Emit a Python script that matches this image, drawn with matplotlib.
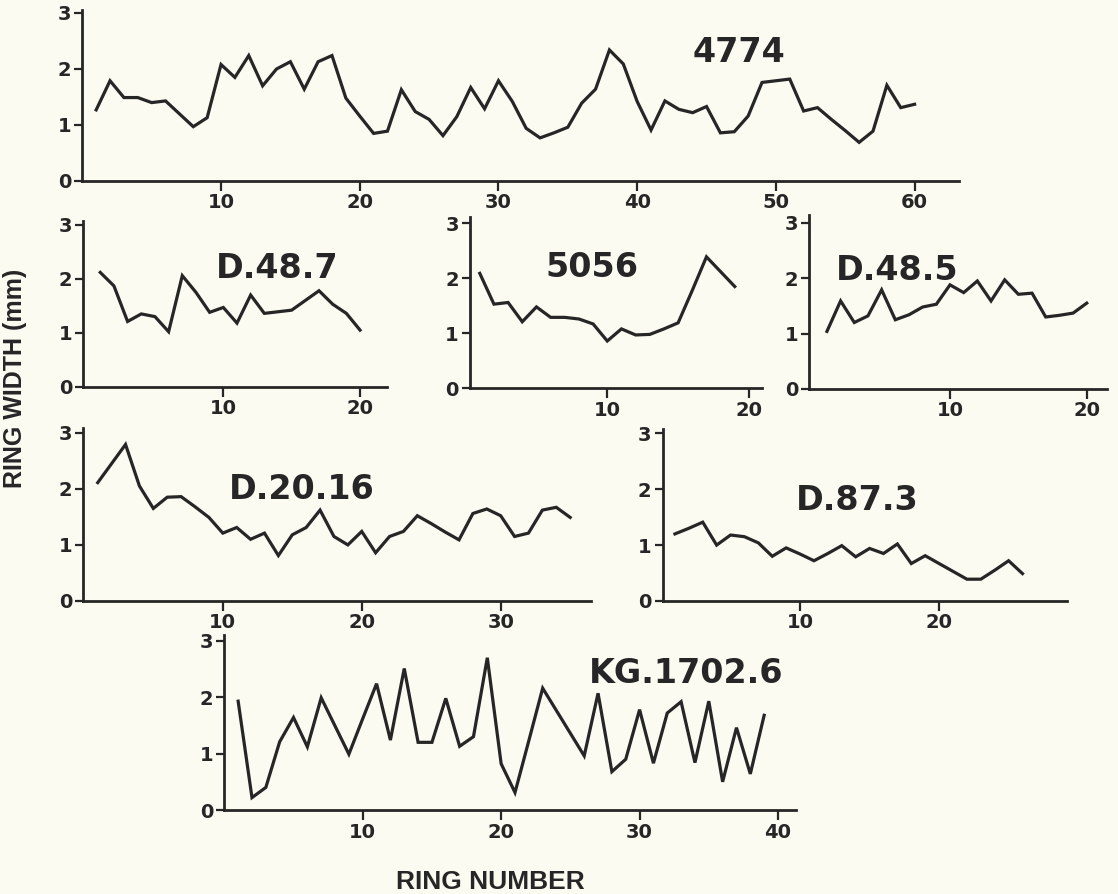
import numpy as np
import matplotlib
matplotlib.use("Agg")
import matplotlib.pyplot as plt

# ---------------- data (ring width, mm) ----------------
w_4774 = [1.27, 1.79, 1.49, 1.49, 1.40, 1.43, 1.20, 0.97, 1.13, 2.08,
          1.85, 2.24, 1.70, 2.00, 2.13, 1.64, 2.13, 2.24, 1.48, 1.16,
          0.85, 0.89, 1.63, 1.24, 1.10, 0.81, 1.15, 1.67, 1.29, 1.79,
          1.42, 0.94, 0.77, 0.86, 0.96, 1.39, 1.64, 2.34, 2.09, 1.42,
          0.91, 1.43, 1.28, 1.22, 1.33, 0.86, 0.88, 1.16, 1.76, 1.79,
          1.82, 1.25, 1.31, 1.10, 0.90, 0.69, 0.89, 1.71, 1.31, 1.37]
w_d487 = [2.12, 1.87, 1.21, 1.35, 1.30, 1.02, 2.06, 1.75, 1.38, 1.47,
          1.18, 1.70, 1.36, 1.39, 1.42, 1.60, 1.78, 1.53, 1.36, 1.05]
w_5056 = [2.09, 1.53, 1.56, 1.21, 1.48, 1.29, 1.29, 1.26, 1.17, 0.86,
          1.08, 0.97, 0.98, 1.08, 1.19, 1.78, 2.39, 2.12, 1.85]
w_d485 = [1.04, 1.59, 1.20, 1.32, 1.79, 1.25, 1.34, 1.48, 1.53, 1.88,
          1.74, 1.95, 1.59, 1.97, 1.71, 1.73, 1.30, 1.33, 1.37, 1.55]
w_d2016 = [2.11, 2.45, 2.79, 2.05, 1.65, 1.85, 1.86, 1.68, 1.49, 1.21,
           1.31, 1.10, 1.21, 0.81, 1.18, 1.31, 1.62, 1.15, 1.00, 1.24,
           0.86, 1.15, 1.24, 1.52, 1.38, 1.23, 1.09, 1.56, 1.64, 1.52,
           1.15, 1.21, 1.62, 1.67, 1.49]
w_d873 = [1.20, 1.30, 1.41, 1.00, 1.18, 1.15, 1.04, 0.80, 0.95, 0.84,
          0.72, 0.85, 0.99, 0.79, 0.94, 0.85, 1.02, 0.67, 0.81, 0.67,
          0.53, 0.39, 0.39, 0.55, 0.72, 0.49]
w_kg = [1.93, 0.22, 0.40, 1.21, 1.64, 1.12, 1.99, 1.49, 0.99, 1.62,
        2.24, 1.24, 2.51, 1.20, 1.20, 1.98, 1.13, 1.30, 2.70, 0.82,
        0.31, 1.23, 2.16, 1.76, 1.36, 0.96, 2.07, 0.68, 0.90, 1.78,
        0.83, 1.72, 1.92, 0.84, 1.93, 0.50, 1.46, 0.64, 1.68]

labels = ["4774", "D.48.7", "5056", "D.48.5", "D.20.16", "D.87.3", "KG.1702.6"]
series = [w_4774, w_d487, w_5056, w_d485, w_d2016, w_d873, w_kg]
y_ticks = [0, 1, 2, 3]
y_ticklabels = ["0", "1", "2", "3"]
x_label = "RING NUMBER"
y_label = "RING WIDTH (mm)"

# ---------------- layout (pixels) ----------------
W, H = 1118, 894
BG = "#fbfbf2"
INK = "#262626"
# left, right, bottom, top (px from top), xlim, ylim-top
panels = [
    (82.3, 959.0, 181.0, 10.2, (0.0, 63.2), 3.05),
    (83.3, 386.7, 386.7, 221.2, (-0.24, 21.95), 3.07),
    (470.0, 761.7, 388.3, 216.7, (0.31, 20.9), 3.12),
    (809.3, 1106.7, 389.0, 214.5, (-0.29, 21.46), 3.15),
    (83.3, 591.0, 601.0, 428.2, (-0.04, 36.5), 3.08),
    (662.7, 1067.0, 601.0, 428.8, (0.12, 29.2), 3.08),
    (224.3, 796.0, 810.0, 635.2, (0.0, 41.3), 3.10),
]
label_pos = [(738.8, 61.7), (277.5, 278.3), (592.2, 277.3), (896.7, 280.0),
             (301.3, 499.3), (857.5, 510.0), (686.0, 683.3)]

fig = plt.figure(figsize=(W / 100, H / 100), dpi=100)
fig.patch.set_facecolor(BG)

tick_font = dict(family="DejaVu Sans", weight="bold", size=14)

for (L, R, B, T, xl, yt), vals, lab, (lx, ly) in zip(panels, series, labels, label_pos):
    ax = fig.add_axes([L / W, 1 - B / H, (R - L) / W, (B - T) / H])
    ax.set_facecolor(BG)
    rings = np.arange(1, len(vals) + 1)
    ax.plot(rings, vals, color=INK, lw=2.3, solid_joinstyle="miter")
    ax.set_xlim(*xl)
    ax.set_ylim(0, yt)
    for s in ["top", "right"]:
        ax.spines[s].set_visible(False)
    for s in ["left", "bottom"]:
        ax.spines[s].set_linewidth(2.0)
        ax.spines[s].set_color(INK)
    xt = [t for t in range(10, 70, 10) if t <= xl[1]]
    ax.set_xticks(xt)
    ax.set_xticklabels([str(t) for t in xt], fontdict=tick_font, color=INK)
    ax.set_yticks(y_ticks)
    ax.set_yticklabels(y_ticklabels, fontdict=tick_font, color=INK)
    ax.tick_params(axis="x", direction="out", length=7, width=1.6, pad=2, colors=INK)
    ax.tick_params(axis="y", direction="out", length=6, width=1.6, pad=2, colors=INK)
    fig.text(lx / W, 1 - ly / H, lab, ha="center", va="baseline",
             family="DejaVu Sans", weight="bold", size=24, color=INK)

fig.text(15 / W, 1 - 378 / H, y_label, rotation=90, ha="center", va="center",
         family="Liberation Sans", weight="bold", size=18, color=INK)
fig.text(490 / W, 1 - 889 / H, x_label, ha="center", va="baseline",
         family="Liberation Sans", weight="bold", size=19, color=INK)

fig.savefig("out.png", dpi=100, facecolor=BG)
